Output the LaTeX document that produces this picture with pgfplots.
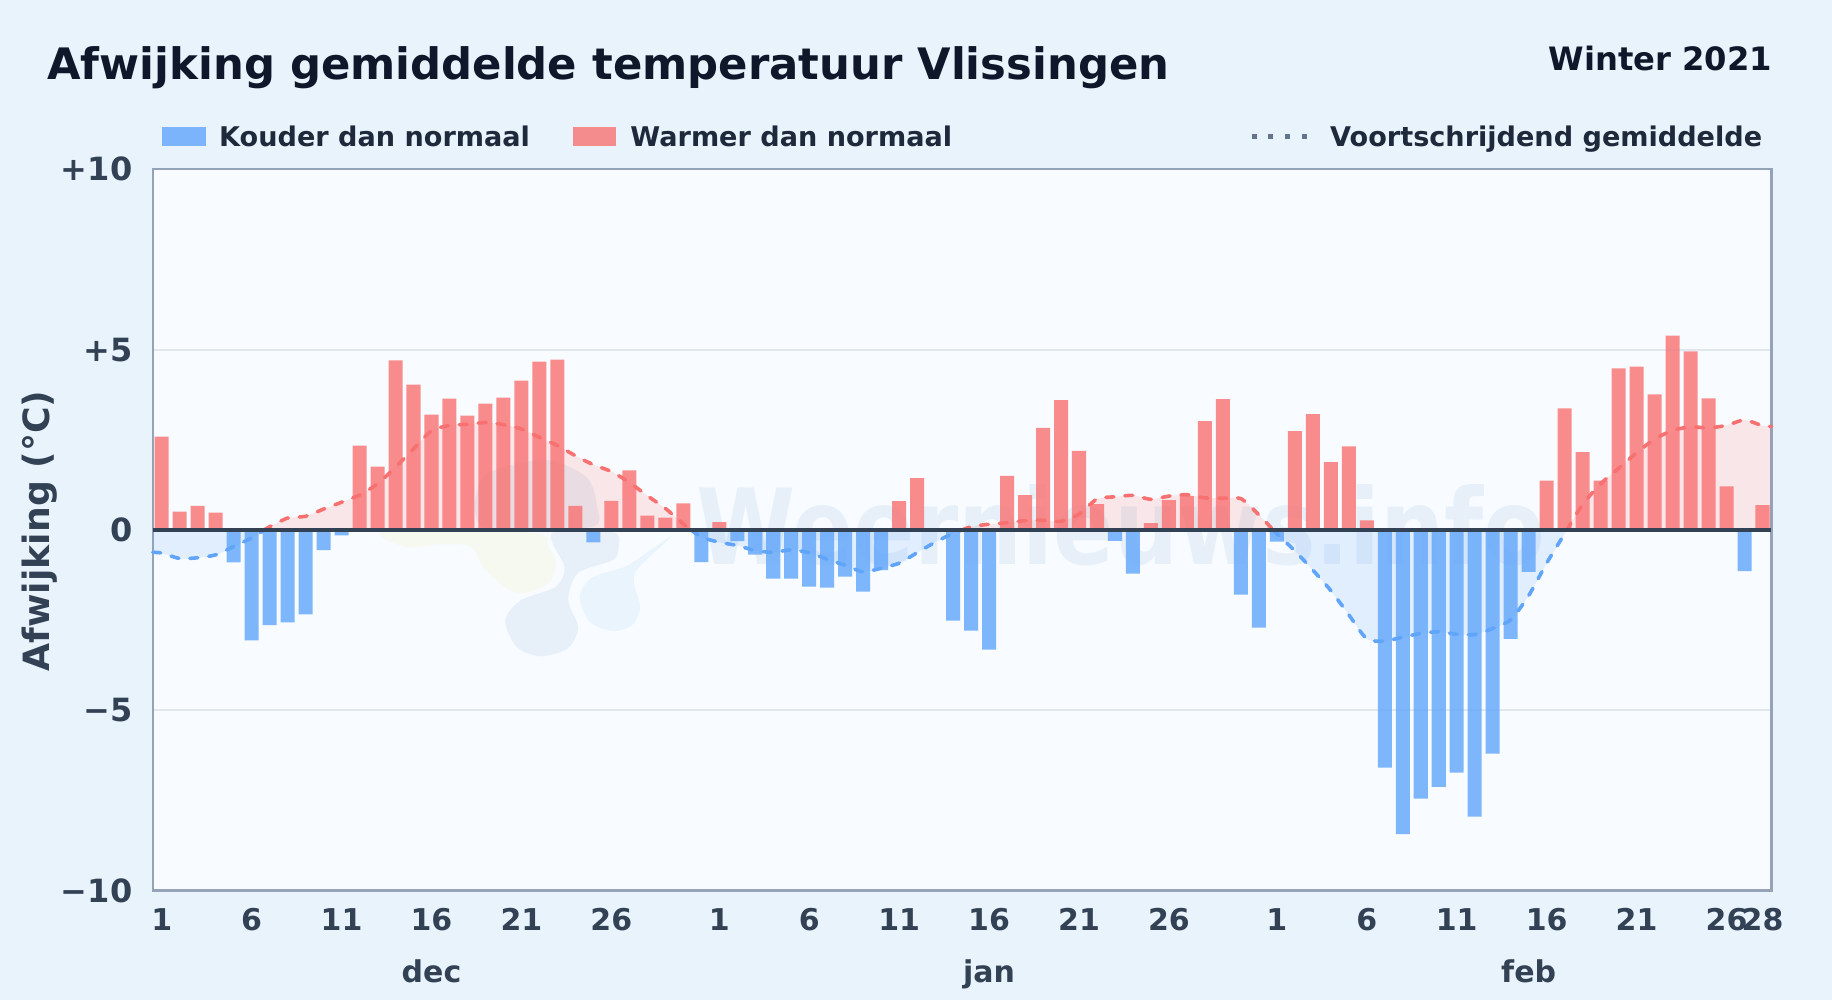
\documentclass[border=0pt]{standalone}
\usepackage{fontspec}
\setmainfont{DejaVu Sans}
\usepackage{pgfplots}
\usepackage{pgfplotstable}
\pgfplotsset{compat=1.18}

\definecolor{pagebg}{HTML}{E8F3FC}
\definecolor{plotbg}{HTML}{F8FBFF}
\definecolor{titlecol}{HTML}{0F172A}
\definecolor{legcol}{HTML}{1E293B}
\definecolor{tickcol}{HTML}{334155}
\definecolor{bordercol}{HTML}{94A3B8}
\definecolor{gridcol}{HTML}{E0E8EE}
\definecolor{coldcol}{HTML}{60A5FA}
\definecolor{warmcol}{HTML}{F87171}
\definecolor{dotcol}{HTML}{64748B}
\definecolor{logogreen}{HTML}{F5F9EF}
\definecolor{logogrey}{HTML}{E7EFF8}
\definecolor{logolight}{HTML}{E9F4FD}
\definecolor{markcol}{HTML}{5897CD}

% daily bars, day 1 = 1 dec, 32 = 1 jan, 63 = 1 feb
\pgfplotstableread{
x y
1 2.59
2 0.51
3 0.67
4 0.48
12 2.34
13 1.76
14 4.70
15 4.03
16 3.20
17 3.64
18 3.17
19 3.50
20 3.67
21 4.14
22 4.67
23 4.72
24 0.67
26 0.81
27 1.65
28 0.40
29 0.34
30 0.74
32 0.22
42 0.80
43 1.44
48 1.50
49 0.97
50 2.83
51 3.60
52 2.19
53 0.72
56 0.19
57 0.83
58 0.94
59 3.02
60 3.63
64 2.74
65 3.21
66 1.88
67 2.32
68 0.27
78 1.37
79 3.37
80 2.16
81 1.37
82 4.48
83 4.53
84 3.76
85 5.39
86 4.95
87 3.65
88 1.21
90 0.69
}\warmbars
\pgfplotstableread{
x y
5 -0.90
6 -3.06
7 -2.64
8 -2.56
9 -2.34
10 -0.56
11 -0.15
25 -0.34
31 -0.89
33 -0.31
34 -0.68
35 -1.35
36 -1.35
37 -1.57
38 -1.60
39 -1.29
40 -1.71
41 -1.11
44 -0.05
45 -2.51
46 -2.79
47 -3.32
54 -0.30
55 -1.21
61 -1.79
62 -2.71
63 -0.32
69 -6.59
70 -8.43
71 -7.45
72 -7.12
73 -6.73
74 -7.95
75 -6.20
76 -3.02
77 -1.16
89 -1.14
}\coldbars

% running mean, one table per stretch above or below zero
\pgfplotstableread{
x y
0.5 -0.62
1 -0.64
2 -0.79
3 -0.77
4 -0.69
5 -0.46
6 -0.22
6.7 0
}\negA
\pgfplotstableread{
x y
6.7 0
7 0.09
8 0.33
9 0.38
10 0.58
11 0.77
12 0.97
13 1.28
14 1.74
15 2.25
16 2.75
17 2.90
18 2.93
19 2.98
20 2.92
21 2.80
22 2.57
23 2.34
24 2.06
25 1.81
26 1.62
27 1.32
28 0.95
29 0.60
30 0.17
30.45 0
}\posA
\pgfplotstableread{
x y
30.45 0
31 -0.20
32 -0.34
33 -0.43
34 -0.57
35 -0.62
36 -0.55
37 -0.63
38 -0.81
39 -0.98
40 -1.16
41 -1.06
42 -0.92
43 -0.63
44 -0.34
45 -0.09
45.5 0
}\negB
\pgfplotstableread{
x y
45.5 0
46 0.09
47 0.16
48 0.20
49 0.26
50 0.27
51 0.24
52 0.44
53 0.86
54 0.92
55 0.96
56 0.85
57 0.94
58 0.98
59 0.89
60 0.88
61 0.87
62 0.42
62.8 0
}\posB
\pgfplotstableread{
x y
62.8 0
63 -0.10
64 -0.58
65 -1.11
66 -1.68
67 -2.35
68 -3.02
69 -3.08
70 -2.97
71 -2.87
72 -2.82
73 -2.89
74 -2.90
75 -2.73
76 -2.49
77 -1.82
78 -0.92
79 -0.10
79.12 0
}\negC
\pgfplotstableread{
x y
79.12 0
80 0.71
81 1.28
82 1.71
83 2.14
84 2.52
85 2.76
86 2.86
87 2.83
88 2.90
89 3.05
90 2.89
90.5 2.87
}\posC

\newcommand{\fsz}[1]{\bfseries\fontsize{#1}{#1}\selectfont}

\pgfplotsset{
  area/.style={draw=none, fill=#1, fill opacity=0.15, smooth, tension=0.4, forget plot},
  mean/.style={draw=#1, line width=1.8pt, line cap=round, dash pattern=on 4pt off 5.5pt, smooth, tension=0.4, no markers},
  bars/.style={ybar, bar shift=0pt, bar width=0.78, draw=none, fill=#1, fill opacity=0.8},
}

\begin{document}
\begin{tikzpicture}
  % page and everything outside the axis, in reference pixels from the top left
  \begin{scope}[shift={(0pt,500pt)}, x=0.5pt, y=-0.5pt]
    \fill[pagebg] (0,0) rectangle (1832,1000);
  \end{scope}

  \begin{axis}[
    at={(76.35pt,54.65pt)}, anchor=south west,
    scale only axis, width=809.4pt, height=360.7pt,
    xmin=0.5, xmax=90.5, ymin=-10, ymax=10,
    clip=false,
    axis background/.style={fill=plotbg},
    axis line style={draw=bordercol, line width=1.2pt},
    major tick length=0pt,
    xtick={1,6,11,16,21,26,32,37,42,47,52,57,63,68,73,78,83,88,90},
    xticklabels={1,6,11,16,21,26,1,6,11,16,21,26,1,6,11,16,21,26,28},
    ytick={-10,-5,0,5,10},
    yticklabels={−10,−5,0,+5,+10},
    ymajorgrids, grid style={draw=gridcol, line width=1pt},
    tick label style={text=tickcol},
    xticklabel style={font=\fsz{15}, anchor=base, inner sep=0pt, yshift=-20.1pt},
    yticklabel style={font=\fsz{16}, anchor=east, inner sep=0pt, xshift=-10pt},
  ]
    % logo blobs and site name, behind the data
    \fill[logogreen] plot[smooth cycle] coordinates {(axis cs:13.4,-0.05)(axis cs:14.6,-0.47)(axis cs:16.7,-0.39)(axis cs:18.2,-0.47)(axis cs:19.0,-1.11)(axis cs:20.75,-1.75)(axis cs:22.5,-1.47)(axis cs:22.9,-0.92)(axis cs:22.5,-0.47)(axis cs:21.6,-0.08)};
    \fill[logogrey] plot[smooth cycle] coordinates {(axis cs:22.7,-0.08)(axis cs:23.4,-1.03)(axis cs:22.9,-1.58)(axis cs:21.0,-1.94)(axis cs:20.1,-2.5)(axis cs:20.75,-3.25)(axis cs:22.1,-3.5)(axis cs:23.6,-3.27)(axis cs:24.15,-2.69)(axis cs:23.6,-1.94)(axis cs:24.15,-1.19)(axis cs:26.1,-0.83)(axis cs:26.4,-0.47)(axis cs:26.1,-0.06)};
    \fill[logolight] plot[smooth cycle] coordinates {(axis cs:24.25,-1.86)(axis cs:24.9,-1.33)(axis cs:26.7,-1.03)(axis cs:27.4,-0.83)(axis cs:29.3,-0.19)(axis cs:27.4,-1.11)(axis cs:27.3,-1.58)(axis cs:27.6,-2.14)(axis cs:27.15,-2.64)(axis cs:26.1,-2.8)(axis cs:24.8,-2.55)};
    \fill[logogrey] plot[smooth cycle] coordinates {(axis cs:18.9,1.47)(axis cs:22.25,1.94)(axis cs:24.6,1.47)(axis cs:25.2,0.64)(axis cs:24.8,0.08)(axis cs:18.9,0.08)};
    \node[anchor=base west, inner sep=0pt, text=markcol, opacity=0.10, font=\fsz{45}] at (axis cs:30.7,-0.97) {\scalebox{1}[1.17]{Weernieuws.info}};

    \addplot[area=coldcol] table {\negA} \closedcycle;
    \addplot[area=warmcol] table {\posA} \closedcycle;
    \addplot[area=coldcol] table {\negB} \closedcycle;
    \addplot[area=warmcol] table {\posB} \closedcycle;
    \addplot[area=coldcol] table {\negC} \closedcycle;
    \addplot[area=warmcol] table {\posC} \closedcycle;

    \addplot[bars=coldcol] table {\coldbars};
    \addplot[bars=warmcol] table {\warmbars};

    \addplot[mean=coldcol] table {\negA};
    \addplot[mean=warmcol] table {\posA};
    \addplot[mean=coldcol] table {\negB};
    \addplot[mean=warmcol] table {\posB};
    \addplot[mean=coldcol] table {\negC};
    \addplot[mean=warmcol] table {\posC};

    \addplot[draw=tickcol, line width=1.75pt, no markers] coordinates {(0.5,0)(90.5,0)};

    \node[anchor=base, inner sep=0pt, text=tickcol, font=\fsz{15}] at (axis cs:16,-12.55) {dec};
    \node[anchor=base, inner sep=0pt, text=tickcol, font=\fsz{15}] at (axis cs:47,-12.55) {jan};
    \node[anchor=base, inner sep=0pt, text=tickcol, font=\fsz{15}] at (axis cs:77,-12.55) {feb};
  \end{axis}

  \begin{scope}[shift={(0pt,500pt)}, x=0.5pt, y=-0.5pt]
    \node[anchor=base west, inner sep=0pt, text=titlecol, font=\fsz{21.67}] at (46.9,79.3) {Afwijking gemiddelde temperatuur Vlissingen};
    \node[anchor=base east, inner sep=0pt, text=titlecol, font=\fsz{16.1}] at (1772.5,71) {Winter 2021};

    \fill[coldcol, opacity=0.8] (161.6,126.7) rectangle (205.8,146);
    \node[anchor=base west, inner sep=0pt, text=legcol, font=\fsz{13.55}] at (218.8,146.8) {Kouder dan normaal};
    \fill[warmcol, opacity=0.8] (573,126.7) rectangle (616,146);
    \node[anchor=base west, inner sep=0pt, text=legcol, font=\fsz{13.55}] at (630,146.8) {Warmer dan normaal};
    \draw[dotcol, line width=2.3pt, dash pattern=on 2.5pt off 5.85pt] (1251.6,136.7) -- (1307,136.7);
    \node[anchor=base west, inner sep=0pt, text=legcol, font=\fsz{13.55}] at (1329.8,146.8) {Voortschrijdend gemiddelde};

    \node[rotate=90, inner sep=0pt, text=tickcol, font=\fsz{18.1}] at (39.5,531) {Afwijking (°C)};
  \end{scope}
\end{tikzpicture}
\end{document}
